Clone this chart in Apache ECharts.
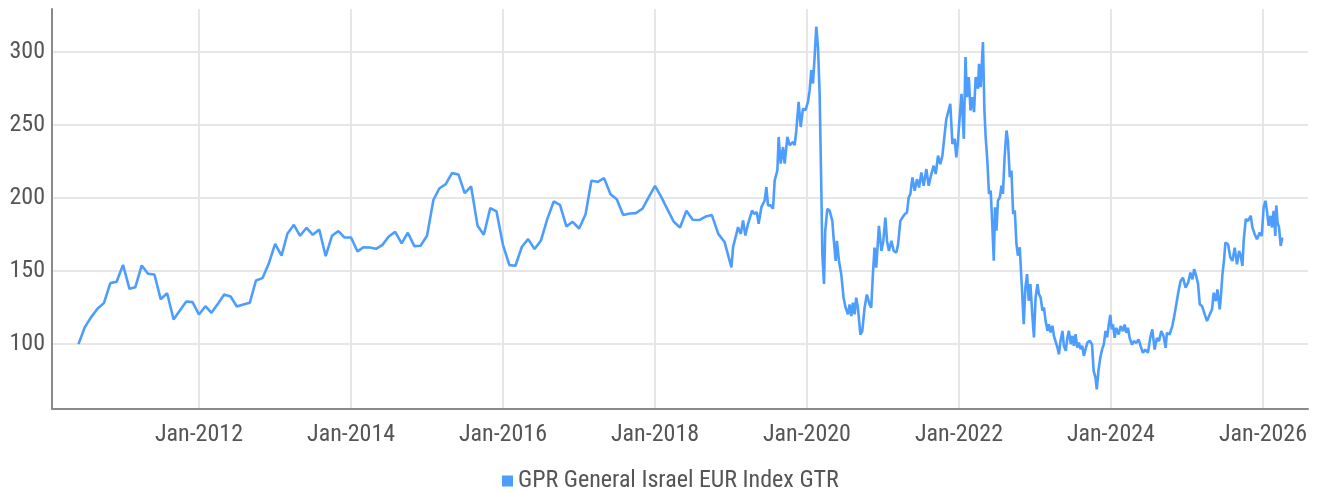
<!DOCTYPE html>
<html>
<head>
<meta charset="utf-8">
<script src="https://cdn.jsdelivr.net/npm/echarts@6/dist/echarts.min.js"></script>
<style>
html,body{margin:0;padding:0;background:#fff;}
#chart{width:1317px;height:493px;}
</style>
</head>
<body>
<div id="chart"></div>
<script>
// ---- DATA ----
const seriesName = 'GPR General Israel EUR Index GTR';
const yTicks = [100, 150, 200, 250, 300];
const xTickYears = [2012, 2014, 2016, 2018, 2020, 2022, 2024, 2026];

// monthly values (first of month), 2010 starts in June
const monthly2010 = [100, 111.6, 118.5, 124.4, 128.1, 141.8, 142.7];
const monthly2011 = [154.3, 137.9, 139, 153.9, 148.2, 147.7, 130.8, 134.9, 116.9, 123, 129.2, 128.8];
const monthly2012 = [120.3, 126, 121.5, 127.6, 134, 132.6, 125.8, 127.2, 128.3, 143.6, 145.2, 155];
const monthly2013 = [168.7, 160.7, 175.6, 181.7, 174.2, 179.7, 174.9, 178.5, 160.3, 174.2, 177.4, 173];
const monthly2014 = [173, 163.5, 166.4, 166.2, 165.3, 168, 173.7, 176.9, 169, 176.3, 167.1, 167.4];
const monthly2015 = [174.2, 198.9, 206.6, 209.6, 217.1, 216.2, 203.4, 208, 181, 174.9, 193.2, 190.9];
const monthly2016 = [168, 154.1, 153.7, 166.7, 171.9, 165.1, 170.8, 185.6, 197.7, 195.4, 180.6, 183.8];
const monthly2017 = [179.2, 189, 211.9, 211.2, 213.7, 202.7, 199.3, 188.4, 189.5, 189.7, 192.7, 200.5];
const monthly2018 = [208.4, 200.5, 192.5, 183.8, 179.9, 191.4, 185.2, 185, 187.4, 188.4, 175.5, 170];

// higher-frequency part (readings)
const dates2019 = ['2019-01-03','2019-01-11','2019-01-27','2019-02-04','2019-02-17','2019-02-28','2019-03-11','2019-03-24','2019-04-12','2019-04-22','2019-05-05','2019-05-14','2019-05-27','2019-06-12','2019-06-20','2019-06-28','2019-07-11','2019-07-22','2019-07-30','2019-08-12','2019-08-18','2019-08-28','2019-09-08','2019-09-16','2019-09-29','2019-10-10','2019-10-26','2019-11-03','2019-11-11','2019-11-22','2019-12-02','2019-12-13','2019-12-25'];
const values2019 = [152.6, 166.4, 175.5, 180.1, 175.5, 184.7, 174.4, 182.4, 191.5, 189.2, 190.4, 182.4, 193.8, 198.4, 207.6, 195, 195, 192.7, 212.1, 219, 241.9, 223.6, 235, 223.6, 241.9, 236.2, 238.4, 236.2, 246.5, 265.9, 248.7, 261.3, 260.2];

const dates2020 = ['2020-01-06','2020-01-14','2020-01-22','2020-01-30','2020-02-07','2020-02-15','2020-02-23','2020-03-02','2020-03-10','2020-03-15','2020-03-23','2020-03-29','2020-04-08','2020-04-19','2020-05-02','2020-05-08','2020-05-18','2020-05-24','2020-06-03','2020-06-14','2020-06-25','2020-07-05','2020-07-16','2020-07-24','2020-08-01','2020-08-09','2020-08-17','2020-08-25','2020-09-02','2020-09-14','2020-09-23','2020-10-04','2020-10-15','2020-10-28','2020-11-05','2020-11-13','2020-11-21','2020-11-29','2020-12-12','2020-12-24'];
const values2020 = [265.9, 273.9, 287.6, 278.5, 296.8, 317.4, 303.7, 271.6, 207.6, 161.8, 141.2, 177.8, 192.7, 191.4, 184.4, 173, 157, 170.7, 157, 147.8, 131.8, 124.9, 120.4, 127.2, 119.2, 128.4, 120.4, 131.8, 124.9, 106.6, 108.9, 124.9, 134, 127.2, 124.9, 147.8, 166.1, 152.4, 181, 163.8];

const dates2021 = ['2021-01-02','2021-01-12','2021-01-20','2021-01-29','2021-02-10','2021-02-21','2021-03-06','2021-03-14','2021-03-25','2021-04-04','2021-04-15','2021-04-26','2021-05-04','2021-05-12','2021-05-22','2021-06-02','2021-06-13','2021-06-23','2021-07-04','2021-07-15','2021-07-28','2021-08-08','2021-08-21','2021-09-01','2021-09-11','2021-09-22','2021-10-03','2021-10-13','2021-10-24','2021-11-01','2021-11-09','2021-11-20','2021-11-30','2021-12-11','2021-12-19','2021-12-27'];
const values2021 = [170.7, 186.7, 170.7, 163.8, 170.7, 163.8, 162.7, 168.4, 184.4, 186.7, 189, 190.2, 200.5, 202.7, 214.2, 205, 213, 207.3, 217.6, 208.5, 219.9, 208.5, 216.5, 222.2, 216.5, 229.1, 223.3, 229.1, 243.9, 254.2, 253.1, 264.5, 237.1, 240.5, 227.9, 239.4];

const dates2022 = ['2022-01-04','2022-01-13','2022-01-24','2022-02-01','2022-02-08','2022-02-17','2022-02-25','2022-03-06','2022-03-14','2022-03-22','2022-04-02','2022-04-07','2022-04-15','2022-04-26','2022-05-03','2022-05-09','2022-05-17','2022-05-25','2022-06-02','2022-06-09','2022-06-17','2022-06-23','2022-06-30','2022-07-07','2022-07-16','2022-07-24','2022-07-31','2022-08-08','2022-08-17','2022-08-24','2022-09-02','2022-09-10','2022-09-18','2022-09-26','2022-10-04','2022-10-11','2022-10-20','2022-10-24','2022-10-31','2022-11-08','2022-11-16','2022-11-24','2022-12-02','2022-12-10','2022-12-19','2022-12-27'];
const values2022 = [255.4, 271.4, 240.6, 296.6, 269.1, 282.9, 260, 269.1, 258.9, 282.9, 274.9, 292, 276, 306.9, 260, 241.7, 225.7, 202.9, 205.1, 184.6, 157.1, 193.7, 177.7, 198.3, 200.6, 208.6, 202.9, 228, 246.3, 239.4, 214.3, 218.9, 189.1, 191.4, 168.6, 160.6, 166.3, 154.9, 136.6, 113.7, 138.9, 148, 129.7, 141.1, 120.6, 104.6];

const dates2023 = ['2023-01-04','2023-01-13','2023-01-20','2023-01-28','2023-02-06','2023-02-13','2023-02-21','2023-03-02','2023-03-09','2023-03-17','2023-03-26','2023-04-02','2023-04-10','2023-04-19','2023-04-26','2023-05-04','2023-05-13','2023-05-20','2023-05-29','2023-06-06','2023-06-13','2023-06-22','2023-06-30','2023-07-07','2023-07-15','2023-07-23','2023-07-31','2023-08-08','2023-08-16','2023-08-24','2023-09-01','2023-09-10','2023-09-21','2023-10-02','2023-10-10','2023-10-19','2023-10-25','2023-11-02','2023-11-11','2023-11-20','2023-11-28','2023-12-06','2023-12-14','2023-12-22','2023-12-29'];
const values2023 = [132, 141.1, 134.3, 132, 122.9, 125.1, 116, 109.1, 113.7, 108, 112.6, 105.7, 105.7, 97.7, 93.1, 102.3, 109.1, 98.9, 95.4, 104.6, 109.1, 100, 105.7, 98.9, 106.9, 97.7, 101.1, 96.6, 98.9, 92, 96.6, 101.1, 102.3, 100, 81.7, 77.1, 69.1, 81.7, 90.9, 96.6, 100, 109.1, 104.6, 113.7, 120];

const dates2024 = ['2024-01-05','2024-01-11','2024-01-19','2024-01-27','2024-02-07','2024-02-17','2024-02-28','2024-03-07','2024-03-15','2024-03-23','2024-03-31','2024-04-11','2024-04-21','2024-05-02','2024-05-13','2024-05-23','2024-06-03','2024-06-14','2024-06-27','2024-07-08','2024-07-18','2024-07-29','2024-08-09','2024-08-19','2024-08-30','2024-09-10','2024-09-20','2024-09-26','2024-10-09','2024-10-22','2024-11-02','2024-11-10','2024-11-21','2024-12-01','2024-12-12','2024-12-25'];
const values2024 = [110.1, 113.5, 104.3, 111.2, 106.6, 112.4, 108.9, 113.5, 107.8, 111.2, 104.3, 99.8, 102.1, 100.9, 103.2, 98.6, 94.1, 96.3, 94.1, 104.3, 110.1, 96.3, 104.3, 102.1, 108.9, 105.5, 97.5, 107.8, 106.6, 112.4, 120.4, 127.2, 136.4, 143.2, 145.5, 138.7];

const dates2025 = ['2025-01-06','2025-01-17','2025-01-27','2025-02-04','2025-02-12','2025-02-23','2025-03-03','2025-03-14','2025-03-27','2025-04-07','2025-04-20','2025-05-01','2025-05-09','2025-05-19','2025-05-27','2025-06-07','2025-06-12','2025-06-20','2025-06-28','2025-07-04','2025-07-17','2025-07-28','2025-08-07','2025-08-18','2025-08-29','2025-09-08','2025-09-16','2025-09-24','2025-09-30','2025-10-10','2025-10-21','2025-11-03','2025-11-11','2025-11-22','2025-12-03','2025-12-16','2025-12-26'];
const values2025 = [142.1, 149, 144.4, 151.3, 147.8, 141, 127.2, 126.1, 120.4, 115.8, 120.4, 123.8, 135.2, 129.5, 137.5, 123.8, 131.8, 147.8, 158.1, 169.6, 168.4, 159.3, 157, 166.1, 154.7, 163.8, 160.4, 153.5, 170.7, 185.6, 184.4, 187.9, 179.9, 175.3, 171.9, 176.4, 174.1];

const dates2026 = ['2026-01-04','2026-01-13','2026-01-20','2026-01-28','2026-02-06','2026-02-13','2026-02-21','2026-03-01','2026-03-06','2026-03-12','2026-03-19','2026-03-27','2026-04-04'];
const values2026 = [193.6, 198.2, 191.3, 181, 187.9, 179.9, 191.3, 174.1, 195, 183, 179.9, 167.3, 173];

// ---- BUILD ----
function pad(n){ return (n < 10 ? '0' : '') + n; }
const points = [];
function addMonthly(year, startMonth, arr){
  arr.forEach(function(v, i){
    points.push([Date.parse(year + '-' + pad(startMonth + i) + '-01'), v]);
  });
}
addMonthly(2010, 6, monthly2010);
addMonthly(2011, 1, monthly2011);
addMonthly(2012, 1, monthly2012);
addMonthly(2013, 1, monthly2013);
addMonthly(2014, 1, monthly2014);
addMonthly(2015, 1, monthly2015);
addMonthly(2016, 1, monthly2016);
addMonthly(2017, 1, monthly2017);
addMonthly(2018, 1, monthly2018);
function addDaily(dates, vals){
  dates.forEach(function(d, i){ points.push([Date.parse(d), vals[i]]); });
}
addDaily(dates2019, values2019);
addDaily(dates2020, values2020);
addDaily(dates2021, values2021);
addDaily(dates2022, values2022);
addDaily(dates2023, values2023);
addDaily(dates2024, values2024);
addDaily(dates2025, values2025);
addDaily(dates2026, values2026);

const YEAR_MS = 365.25 * 86400000;
const xTicks = xTickYears.map(function(y){ return Date.UTC(y, 0, 1); });
const xMin = Date.UTC(2012, 0, 1) - 1.934 * YEAR_MS;
const xMax = Date.UTC(2026, 0, 1) + 0.592 * YEAR_MS;

const FONT = "'Liberation Sans Narrow', 'Roboto Condensed', 'DejaVu Sans Condensed', sans-serif";
const TEXT_COLOR = '#555555';
const LINE_COLOR = '#4d9dff';

const chart = echarts.init(document.getElementById('chart'), null, {renderer: 'canvas'});
chart.setOption({
  animation: false,
  backgroundColor: '#ffffff',
  grid: { left: 52, right: 9, top: 9, bottom: 84, containLabel: false },
  legend: {
    show: true,
    top: 464,
    left: 497,
    icon: 'rect',
    itemWidth: 11,
    itemHeight: 11,
    textStyle: { fontFamily: FONT, fontSize: 24, color: TEXT_COLOR },
    data: [seriesName]
  },
  xAxis: {
    type: 'value',
    min: xMin,
    max: xMax,
    axisLine: { show: true, lineStyle: { color: '#8a8a8a', width: 2 } },
    axisTick: { show: false, customValues: xTicks },
    axisLabel: {
      customValues: xTicks,
      margin: 14,
      fontFamily: FONT, fontSize: 24, color: TEXT_COLOR,
      formatter: function(v){ return 'Jan-' + new Date(v).getUTCFullYear(); }
    },
    splitLine: { show: true, lineStyle: { color: '#e6e6e6', width: 2 } }
  },
  yAxis: {
    type: 'value',
    min: 55.6,
    max: 329.5,
    axisLine: { show: true, lineStyle: { color: '#8a8a8a', width: 2 } },
    axisTick: { show: false, customValues: yTicks },
    axisLabel: {
      customValues: yTicks,
      margin: 7,
      fontFamily: FONT, fontSize: 24, color: TEXT_COLOR
    },
    splitLine: { show: true, lineStyle: { color: '#e6e6e6', width: 2 } }
  },
  series: [{
    name: seriesName,
    type: 'line',
    data: points,
    showSymbol: false,
    symbol: 'none',
    smooth: false,
    lineStyle: { color: LINE_COLOR, width: 2.6 },
    itemStyle: { color: LINE_COLOR }
  }]
});
</script>
</body>
</html>
